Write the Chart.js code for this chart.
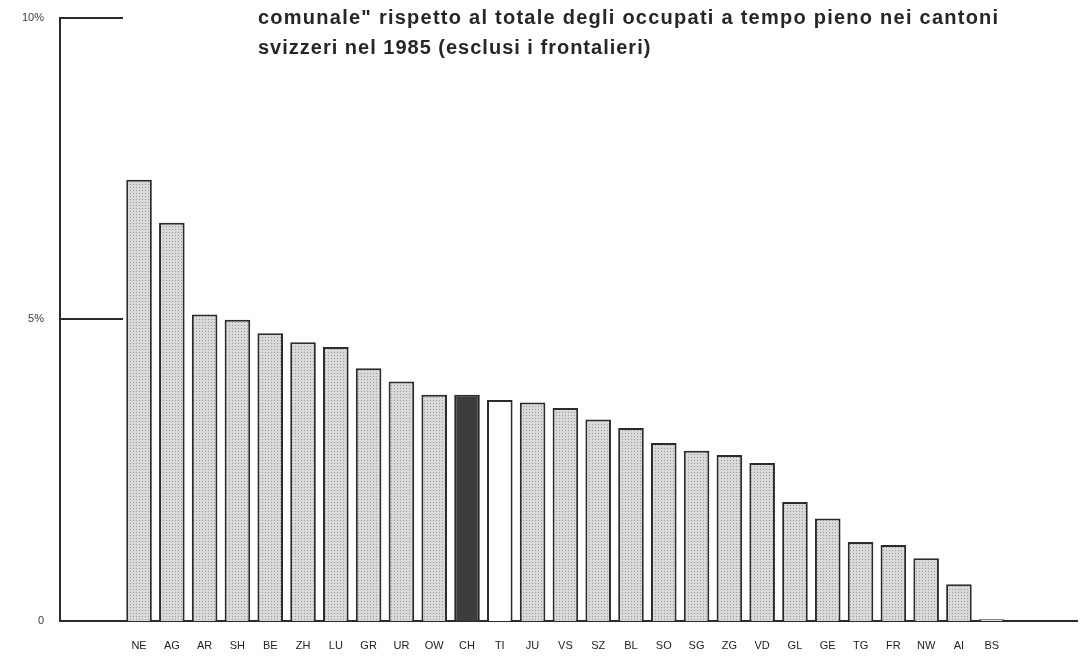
<!DOCTYPE html>
<html>
<head>
<meta charset="utf-8">
<script src="https://cdn.jsdelivr.net/npm/chart.js@4.4.1/dist/chart.umd.min.js"></script>
<style>
  html, body { margin: 0; padding: 0; background: #fff; }
  #wrap { position: relative; width: 1080px; height: 660px; }
  .title {
    position: absolute; left: 258px;
    font: bold 20px "Liberation Sans", Arial, sans-serif;
    line-height: 30px; color: #262626; white-space: nowrap;
  }
  #t1 { top: 2px; letter-spacing: 1.25px; }
  #t2 { top: 32px; letter-spacing: 1px; }
</style>
</head>
<body>
<div id="wrap">
  <canvas id="chart" width="1080" height="660"></canvas>
  <div class="title" id="t1">comunale" rispetto al totale degli occupati a tempo pieno nei cantoni</div>
  <div class="title" id="t2">svizzeri nel 1985 (esclusi i frontalieri)</div>
</div>
<script>
// quota per cantone, in % degli occupati a tempo pieno
const cantons = ['NE', 'AG', 'AR', 'SH', 'BE', 'ZH', 'LU', 'GR', 'UR', 'OW', 'CH', 'TI', 'JU', 'VS',
  'SZ', 'BL', 'SO', 'SG', 'ZG', 'VD', 'GL', 'GE', 'TG', 'FR', 'NW', 'AI', 'BS'];
const shares = [7.31, 6.60, 5.08, 4.99, 4.77, 4.62, 4.54, 4.19, 3.97, 3.75, 3.75, 3.66, 3.62, 3.53,
  3.34, 3.20, 2.95, 2.82, 2.75, 2.62, 1.97, 1.70, 1.31, 1.26, 1.04, 0.61, 0.03];
const yTicks = [0, 5, 10];
const yTickLabels = ['0', '5%', '10%'];

const INK = '#2b2b2b';

// dotted grey screen tone like the printed original
function screenTone() {
  const c = document.createElement('canvas');
  c.width = 3; c.height = 3;
  const g = c.getContext('2d');
  g.fillStyle = '#d9d9d9';
  g.fillRect(0, 0, 3, 3);
  g.fillStyle = '#9a9a9a';
  g.fillRect(1, 1, 1, 1);
  return g.createPattern(c, 'repeat');
}
const tone = screenTone();

function barFill(ctx) {
  const c = cantons[ctx.dataIndex];
  if (c === 'CH') return '#3d3d3d';
  if (c === 'TI') return '#ffffff';
  return tone;
}

// short tick lines drawn inward from the y axis at 5% and 10%
const innerTicks = {
  id: 'innerTicks',
  afterDraw(chart) {
    const { ctx, chartArea, scales } = chart;
    ctx.save();
    ctx.strokeStyle = INK;
    ctx.lineWidth = 2;
    yTicks.filter(v => v > 0).forEach(v => {
      const y = Math.round(scales.y.getPixelForValue(v));
      ctx.beginPath();
      ctx.moveTo(chartArea.left, y);
      ctx.lineTo(chartArea.left + 63, y);
      ctx.stroke();
    });
    ctx.restore();
  }
};

new Chart(document.getElementById('chart'), {
  type: 'bar',
  data: {
    datasets: [{
      data: cantons.map((c, i) => ({ x: i, y: shares[i] })),
      backgroundColor: barFill,
      borderColor: INK,
      borderWidth: 2,
      barPercentage: 0.78,
      categoryPercentage: 1
    }]
  },
  options: {
    responsive: false,
    animation: false,
    layout: { padding: { top: 17.5, right: 3, left: 0, bottom: 0 } },
    plugins: {
      legend: { display: false },
      tooltip: { enabled: false }
    },
    scales: {
      x: {
        type: 'linear',
        offset: false,
        min: -2.41,
        max: 28.6,
        grid: { display: false, drawTicks: false },
        border: { display: true, color: INK, width: 2 },
        afterBuildTicks: s => { s.ticks = cantons.map((_, i) => ({ value: i })); },
        afterFit: s => { s.height = 39; s.paddingLeft = 0; s.paddingRight = 0; },
        ticks: {
          autoSkip: false,
          maxRotation: 0,
          padding: 18,
          color: '#222',
          font: { family: '"Liberation Sans", Arial, sans-serif', size: 11 },
          callback: v => cantons[v]
        }
      },
      y: {
        min: 0,
        max: 10,
        grid: { display: false, drawTicks: false },
        border: { display: true, color: INK, width: 2 },
        afterBuildTicks: s => { s.ticks = yTicks.map(v => ({ value: v })); },
        afterFit: s => { s.width = 60; s.paddingTop = 0; s.paddingBottom = 0; },
        ticks: {
          padding: 16,
          color: '#3a3a3a',
          font: { family: '"Liberation Sans", Arial, sans-serif', size: 11 },
          callback: v => yTickLabels[yTicks.indexOf(v)]
        }
      }
    }
  },
  plugins: [innerTicks]
});
</script>
</body>
</html>
